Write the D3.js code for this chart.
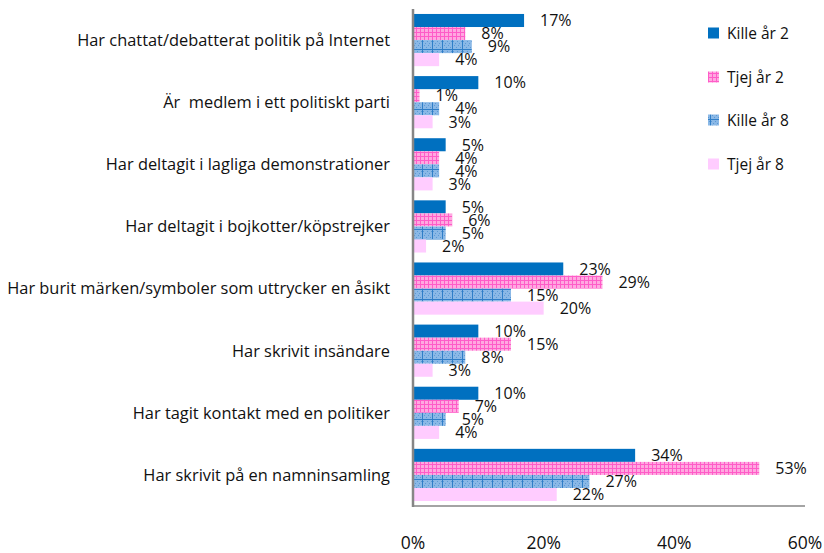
<!DOCTYPE html>
<html>
<head>
<meta charset="utf-8">
<script src="https://cdn.jsdelivr.net/npm/d3@7"></script>
<style>
  body { margin: 0; background: #fff; }
  text { font-family: "Open Sans", "Liberation Sans", Arial, sans-serif; fill: #111; white-space: pre; }
</style>
</head>
<body>
<svg id="chart" width="824" height="553"></svg>
<script>
// categories, top to bottom
const categories = [
  "Har chattat/debatterat politik på Internet",
  "Är  medlem i ett politiskt parti",
  "Har deltagit i lagliga demonstrationer",
  "Har deltagit i bojkotter/köpstrejker",
  "Har burit märken/symboler som uttrycker en åsikt",
  "Har skrivit insändare",
  "Har tagit kontakt med en politiker",
  "Har skrivit på en namninsamling"
];
const seriesNames = ["Kille år 2", "Tjej år 2", "Kille år 8", "Tjej år 8"];
const killeAr2 = [17, 10, 5, 5, 23, 10, 10, 34];
const tjejAr2  = [8, 1, 4, 6, 29, 15, 7, 53];
const killeAr8 = [9, 4, 4, 5, 15, 8, 5, 27];
const tjejAr8  = [4, 3, 3, 2, 20, 3, 4, 22];
const tickLabels = ["0%", "20%", "40%", "60%"];
const tickValues = [0, 20, 40, 60];

const allSeries = [killeAr2, tjejAr2, killeAr8, tjejAr8];
const fills = ["#0070c0", "url(#pinkGrid)", "url(#blueGrid)", "#ffccff"];

const svg = d3.select("#chart");

// patterns
const defs = svg.append("defs");
const pg = defs.append("pattern").attr("id", "pinkGrid")
  .attr("patternUnits", "userSpaceOnUse").attr("width", 4).attr("height", 4);
pg.append("rect").attr("width", 4).attr("height", 4).attr("fill", "#ffa8e0");
pg.append("rect").attr("x", 0).attr("y", 0).attr("width", 1).attr("height", 4).attr("fill", "#ff5cc8");
pg.append("rect").attr("x", 0).attr("y", 0).attr("width", 4).attr("height", 1).attr("fill", "#ff5cc8");

const bg = defs.append("pattern").attr("id", "blueGrid")
  .attr("patternUnits", "userSpaceOnUse").attr("width", 10).attr("height", 10)
  .attr("x", 413);
bg.append("rect").attr("width", 10).attr("height", 10).attr("fill", "#8ab8e6");
for (let i = 0; i < 10; i += 2) {
  bg.append("rect").attr("x", i).attr("y", (i % 4 === 0) ? 1 : 3).attr("width", 1).attr("height", 1).attr("fill", "#5c98d4");
  bg.append("rect").attr("x", i + 1).attr("y", (i % 4 === 0) ? 5 : 7).attr("width", 1).attr("height", 1).attr("fill", "#5c98d4");
}
bg.append("rect").attr("x", 9).attr("y", 0).attr("width", 1).attr("height", 10).attr("fill", "#2f7ec8");
bg.append("rect").attr("x", 0).attr("y", 9).attr("width", 10).attr("height", 1).attr("fill", "#2f7ec8");

const x = d3.scaleLinear().domain([0, 60]).range([413, 805]);
const y = d3.scaleBand().domain(categories).range([9, 506])
  .paddingInner(0.16).paddingOuter(0.08);
const ySub = d3.scaleBand().domain(d3.range(4)).range([0, y.bandwidth()]);

// bars
allSeries.forEach((vals, s) => {
  const g = svg.append("g");
  g.selectAll("rect").data(vals).join("rect")
    .attr("x", x(0))
    .attr("y", (d, i) => y(categories[i]) + ySub(s))
    .attr("width", d => x(d) - x(0))
    .attr("height", ySub.bandwidth())
    .attr("fill", fills[s]);
  g.selectAll("text").data(vals).join("text")
    .attr("x", d => x(d) + 16)
    .attr("y", (d, i) => y(categories[i]) + ySub(s) + ySub.bandwidth() / 2)
    .attr("dy", "0.36em")
    .style("font-size", "16px")
    .text(d => d + "%");
});

// axes lines
svg.append("line").attr("x1", x(0)).attr("x2", x(0)).attr("y1", 9).attr("y2", 507)
  .attr("stroke", "#868686").attr("stroke-width", 2.5);
svg.append("line").attr("x1", x(0) - 1).attr("x2", x(60)).attr("y1", 506).attr("y2", 506)
  .attr("stroke", "#868686").attr("stroke-width", 1.5);

// category labels
svg.append("g").selectAll("text").data(categories).join("text")
  .attr("x", 390)
  .attr("y", d => y(d) + y.bandwidth() / 2)
  .attr("dy", "0.36em")
  .attr("text-anchor", "end")
  .style("font-size", "16.4px")
  .text(d => d);

// x tick labels
svg.append("g").selectAll("text").data(tickValues).join("text")
  .attr("x", d => x(d))
  .attr("y", 543)
  .attr("dy", "0.36em")
  .attr("text-anchor", "middle")
  .style("font-size", "17.5px")
  .text((d, i) => tickLabels[i]);

// legend
const legY = [33, 77, 120, 164];
const leg = svg.append("g").selectAll("g").data(seriesNames).join("g")
  .attr("transform", (d, i) => `translate(708,${legY[i]})`);
leg.append("rect").attr("x", 0).attr("y", -5.5).attr("width", 11).attr("height", 11)
  .attr("fill", (d, i) => fills[i]);
leg.append("text").attr("x", 19).attr("dy", "0.36em")
  .style("font-size", "15.5px").text(d => d);
</script>
</body>
</html>
